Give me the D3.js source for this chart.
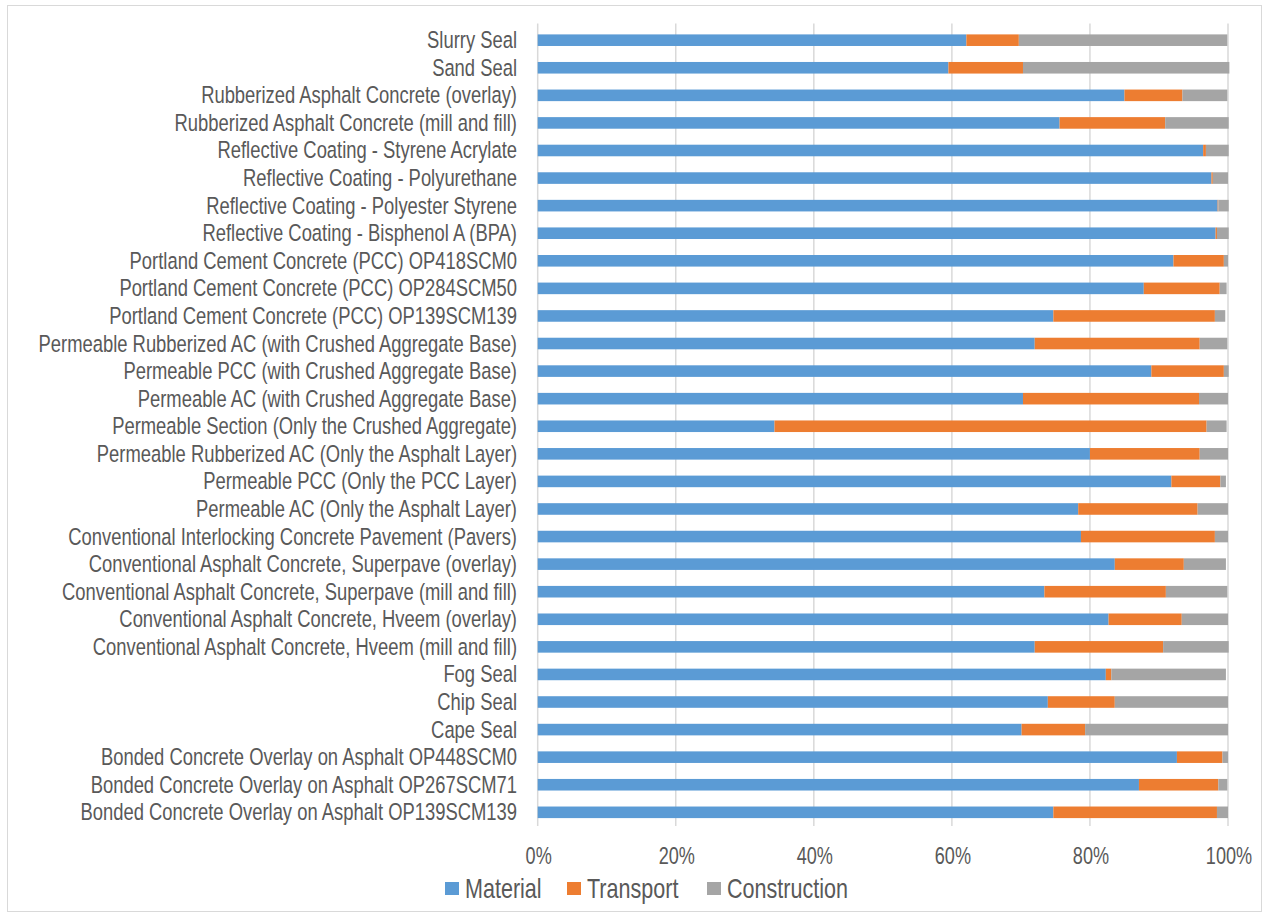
<!DOCTYPE html>
<html>
<head>
<meta charset="utf-8">
<script src="https://cdnjs.cloudflare.com/ajax/libs/d3/7.8.5/d3.min.js"></script>
<style>
  body { margin: 0; background: #fff; }
  svg text { font-family: "Liberation Sans", Arial, sans-serif; fill: #595959; }
</style>
</head>
<body>
<div id="graph"></div>
<script>
// categories, top to bottom
var categories = [
  'Slurry Seal',
  'Sand Seal',
  'Rubberized Asphalt Concrete (overlay)',
  'Rubberized Asphalt Concrete (mill and fill)',
  'Reflective Coating - Styrene Acrylate',
  'Reflective Coating - Polyurethane',
  'Reflective Coating - Polyester Styrene',
  'Reflective Coating - Bisphenol A (BPA)',
  'Portland Cement Concrete (PCC) OP418SCM0',
  'Portland Cement Concrete (PCC) OP284SCM50',
  'Portland Cement Concrete (PCC) OP139SCM139',
  'Permeable Rubberized AC (with Crushed Aggregate Base)',
  'Permeable PCC (with Crushed Aggregate Base)',
  'Permeable AC (with Crushed Aggregate Base)',
  'Permeable Section (Only the Crushed Aggregate)',
  'Permeable Rubberized AC (Only the Asphalt Layer)',
  'Permeable PCC (Only the PCC Layer)',
  'Permeable AC (Only the Asphalt Layer)',
  'Conventional Interlocking Concrete Pavement (Pavers)',
  'Conventional Asphalt Concrete, Superpave (overlay)',
  'Conventional Asphalt Concrete, Superpave (mill and fill)',
  'Conventional Asphalt Concrete, Hveem (overlay)',
  'Conventional Asphalt Concrete, Hveem (mill and fill)',
  'Fog Seal',
  'Chip Seal',
  'Cape Seal',
  'Bonded Concrete Overlay on Asphalt OP448SCM0',
  'Bonded Concrete Overlay on Asphalt OP267SCM71',
  'Bonded Concrete Overlay on Asphalt OP139SCM139'
];

// shares in percent, same order as categories
var material = [62.1, 59.5, 85.0, 75.6, 96.4, 97.6, 98.5, 98.2, 92.1, 87.8,
  74.7, 72.0, 88.9, 70.3, 34.3, 80.0, 91.8, 78.3, 78.7, 83.6,
  73.4, 82.7, 72.0, 82.3, 73.9, 70.1, 92.6, 87.1, 74.7];
var transport = [7.6, 10.8, 8.4, 15.3, 0.4, 0.2, 0.1, 0.2, 7.3, 11.0,
  23.4, 23.9, 10.5, 25.5, 62.6, 15.9, 7.1, 17.3, 19.4, 10.0,
  17.6, 10.6, 18.6, 0.8, 9.7, 9.2, 6.6, 11.5, 23.7];
var construction = [30.2, 29.9, 6.5, 9.2, 3.3, 2.2, 1.5, 1.7, 0.6, 1.0,
  1.5, 4.0, 0.7, 4.2, 2.9, 4.1, 0.8, 4.4, 1.9, 6.1,
  8.9, 6.7, 9.5, 16.6, 16.4, 20.7, 0.8, 1.3, 1.6];

var seriesNames = ['Material', 'Transport', 'Construction'];
var seriesColors = ['#5B9BD5', '#ED7D31', '#A5A5A5'];
var ticks = [0, 20, 40, 60, 80, 100];

var w = 1268, h = 918;
var plot = { top: 26.4, bottom: 826.1, left: 537.7, right: 1228 };

// the source font is a tall, narrow one; squeeze a regular sans to look alike
var squeeze = 0.77;
var labelSqueeze = 0.783;

var svg = d3.select('#graph').append('svg')
  .attr('width', w)
  .attr('height', h);

// outer frame
svg.append('rect')
  .attr('x', 7.5).attr('y', 5.5)
  .attr('width', w - 14).attr('height', h - 12)
  .attr('fill', 'none')
  .attr('stroke', '#d9d9d9');

var rows = categories.map(function(c, i) {
  return { name: c, Material: material[i], Transport: transport[i], Construction: construction[i] };
});

var xscale = d3.scaleLinear()
  .domain([0, 100])
  .range([plot.left, plot.right]);

var yscale = d3.scaleBand()
  .domain(categories)
  .range([plot.top, plot.bottom])
  .paddingInner(0.58)
  .paddingOuter(0.29);

// gridlines
svg.append('g')
  .selectAll('line')
  .data(ticks)
  .enter()
  .append('line')
  .attr('x1', function(d) { return xscale(d); })
  .attr('x2', function(d) { return xscale(d); })
  .attr('y1', plot.top - 3)
  .attr('y2', plot.bottom)
  .attr('stroke', '#d9d9d9')
  .attr('stroke-width', 1.5);

var stack = d3.stack().keys(seriesNames);
var layers = stack(rows);

svg.append('g')
  .selectAll('g')
  .data(layers)
  .enter()
  .append('g')
  .attr('fill', function(d, i) { return seriesColors[i]; })
  .selectAll('rect')
  .data(function(d) { return d; })
  .enter()
  .append('rect')
  .attr('x', function(d) { return xscale(d[0]); })
  .attr('width', function(d) { return xscale(d[1]) - xscale(d[0]); })
  .attr('y', function(d) { return yscale(d.data.name); })
  .attr('height', yscale.bandwidth());

// category labels
svg.append('g')
  .selectAll('text')
  .data(categories)
  .enter()
  .append('text')
  .attr('transform', function(d) {
    var cy = yscale(d) + yscale.bandwidth() / 2;
    return 'translate(517,' + (cy + 8) + ') scale(' + labelSqueeze + ',1)';
  })
  .attr('text-anchor', 'end')
  .attr('font-size', '23.5px')
  .text(function(d) { return d; });

// percent ticks
svg.append('g')
  .selectAll('text')
  .data(ticks)
  .enter()
  .append('text')
  .attr('transform', function(d) {
    return 'translate(' + (xscale(d) + 1) + ',864) scale(' + squeeze + ',1)';
  })
  .attr('text-anchor', 'middle')
  .attr('font-size', '23.5px')
  .text(function(d) { return d + '%'; });

// legend
var legendX = [445, 567, 707];
var legend = svg.append('g').attr('id', 'legend');
legend.selectAll('rect')
  .data(seriesNames)
  .enter()
  .append('rect')
  .attr('x', function(d, i) { return legendX[i]; })
  .attr('y', 882)
  .attr('width', 14)
  .attr('height', 13)
  .attr('fill', function(d, i) { return seriesColors[i]; });
legend.selectAll('text')
  .data(seriesNames)
  .enter()
  .append('text')
  .attr('transform', function(d, i) {
    return 'translate(' + (legendX[i] + 20) + ',898) scale(' + squeeze + ',1)';
  })
  .attr('font-size', '28px')
  .text(function(d) { return d; });
</script>
</body>
</html>
